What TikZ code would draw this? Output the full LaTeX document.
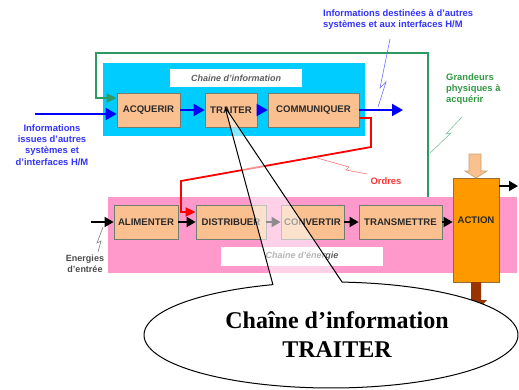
\documentclass[tikz,border=0pt]{standalone}
\usepackage{fontspec}
\setmainfont{Liberation Sans}
\newfontfamily\calloutfont{Liberation Serif}
\usetikzlibrary{arrows.meta,shapes.geometric}
\definecolor{peach}{HTML}{FAC090}
\definecolor{boxline}{HTML}{6E7E70}
\definecolor{infocyan}{HTML}{00CCFF}
\definecolor{enpink}{HTML}{FF99CC}
\definecolor{actorange}{HTML}{FF9900}
\definecolor{actline}{HTML}{9A6B30}
\definecolor{infoblue}{HTML}{0000FF}
\definecolor{txtblue}{HTML}{3333FF}
\definecolor{fbgreen}{HTML}{2E9960}
\definecolor{txtgreen}{HTML}{339944}
\definecolor{ordred}{HTML}{FF0000}
\definecolor{txtred}{HTML}{FF3333}
\definecolor{txtdark}{HTML}{2A2A2A}
\definecolor{brownar}{HTML}{993300}
\definecolor{peachline}{HTML}{C8A070}
\begin{document}
\begin{tikzpicture}[x=1pt,y=-1pt,
  boxtext/.style={font=\fontsize{9.6}{10}\selectfont\bfseries, text=txtdark, inner sep=0pt},
  box/.style={boxtext, draw=boxline, fill=peach, line width=0.8pt, minimum height=34pt},
  lbl/.style={font=\fontsize{9.4}{11.3}\selectfont\bfseries, inner sep=0pt},
  chainlbl/.style={fill=white, inner sep=0pt, font=\fontsize{9}{10}\selectfont\bfseries\itshape, text=txtdark!75},
  barrow/.style={infoblue, line width=2pt, -{Triangle[length=11pt,width=12pt]}},
  karrow/.style={black, line width=1.8pt, -{Triangle[length=9pt,width=10pt]}},
  garrow/.style={fbgreen, line width=1.8pt, -{Triangle[length=10pt,width=9pt]}},
  rarrow/.style={ordred, line width=1.8pt, -{Triangle[length=10pt,width=9pt]}},
  bolt/.style={line width=0.6pt},
]
\useasboundingbox (0,0) rectangle (519,389);
% backgrounds
\fill[infocyan] (103,63) rectangle (365,136);
\fill[enpink] (108,197) rectangle (517,273);
\node[chainlbl, minimum width=132pt, minimum height=18pt] (infolbl) at (236,78) {Chaine d'information};
\node[chainlbl, minimum width=162pt, minimum height=19pt] (enlbl) at (302,256.5) {Chaine d'énergie};
% information chain boxes
\node[box, minimum width=63pt] (acq) at (148.5,110) {ACQUERIR};
\node[box, minimum width=52pt] (tra) at (231,110) {TRAITER};
\node[box, minimum width=91pt] (com) at (313.5,110) {COMMUNIQUER};
% energy chain boxes
\node[box, minimum width=64pt] (ali) at (146,222) {ALIMENTER};
\node[box, minimum width=70pt] (dis) at (231,222) {DISTRIBUER};
\node[box, minimum width=63pt] (con) at (312.5,222) {CONVERTIR};
\node[box, minimum width=83pt] (trm) at (400.5,222) {TRANSMETTRE};
\node[draw=actline, fill=actorange, line width=0.8pt, minimum width=46pt, minimum height=104pt, inner sep=0pt] (act) at (476,230) {};
\node[boxtext] (acttxt) at (476,220) {ACTION};
% green feedback loop
\coordinate (gfoot) at (428,197);
\coordinate (gcorner) at (96,98);
\draw[garrow] (gfoot) -- (428,53) -| (gcorner) -- (gcorner -| acq.west);
% blue information arrows
\coordinate (binp) at (35,114);
\coordinate (bout) at (403,110);
\draw[barrow] (binp) -- (binp -| acq.west);
\draw[barrow] (acq) -- (tra);
\draw[barrow] (tra) -- (com);
\draw[barrow] (com) -- (bout);
% red orders
\draw[rarrow] (com.east |- 0,118) -- (371,118) -- (371,147) -- (181,181) -- (181,212) -- (dis.west |- 0,212);
% energy arrows
\coordinate (ein) at (91,222);
\coordinate (aout) at (518,186);
\draw[karrow] (ein) -- (ali);
\draw[karrow] (ali) -- (dis);
\draw[karrow] (dis) -- (con);
\draw[karrow] (con) -- (trm);
\draw[karrow] (trm.east) -- (trm.east -| act.west);
\draw[karrow] (act.east |- aout) -- (aout);
% block arrows of ACTION
\filldraw[fill=peach, draw=peachline, line width=0.6pt] (469,154) -- (481,154) -- (481,171) -- (487,171) -- (476,178) -- (465,171) -- (469,171) -- cycle;
\fill[brownar] (471,282) -- (481,282) -- (481,300) -- (487,300) -- (476,312) -- (465,300) -- (471,300) -- cycle;
% lightning bolts
\draw[bolt, txtblue!70] (390,39) -- (380,88) -- (386,82) -- (378,107);
\draw[bolt, fbgreen!60] (462,117) -- (446,134) -- (451,133) -- (430,153);
\draw[bolt, ordred!55] (317,158) -- (349,167) -- (346,170) -- (367,174);
\draw[bolt, gray] (103,227) -- (97,243) -- (101,241) -- (98,252);
% texts
\node[lbl, text=txtblue, align=center] (intxt) at (52,145) {Informations\\issues d'autres\\systèmes et\\d'interfaces H/M};
\node[lbl, text=txtblue, align=left, anchor=north west] (outtxt) at (323,9) {Informations destinées à d'autres\\systèmes et aux interfaces H/M};
\node[lbl, text=txtgreen, align=left, anchor=north west] (grtxt) at (446,73) {Grandeurs\\physiques à\\acquérir};
\node[lbl, text=txtred] (ordtxt) at (386,181) {Ordres};
\node[lbl, text=txtdark!85, align=center, font=\fontsize{9}{11.3}\selectfont\bfseries] (entxt) at (85,264) {Energies\\d'entrée};
% callout
\coordinate (tip) at (225,107);
\fill[white, fill opacity=0.55] (tip) -- (273,284.6) -- (342,282.1) -- cycle;
\fill[white] (331,335) ellipse [x radius=187pt, y radius=53pt];
\draw[line width=1pt, line join=round] (tip) -- plot[domain=86.6:-251.9, samples=140] ({331+187*cos(\x)},{335-53*sin(\x)}) -- cycle;
\node[align=center, inner sep=0pt, font=\calloutfont\fontsize{24}{29}\selectfont\bfseries] (calltxt) at (337,334.5) {Chaîne d’information\\TRAITER};
\end{tikzpicture}
\end{document}
